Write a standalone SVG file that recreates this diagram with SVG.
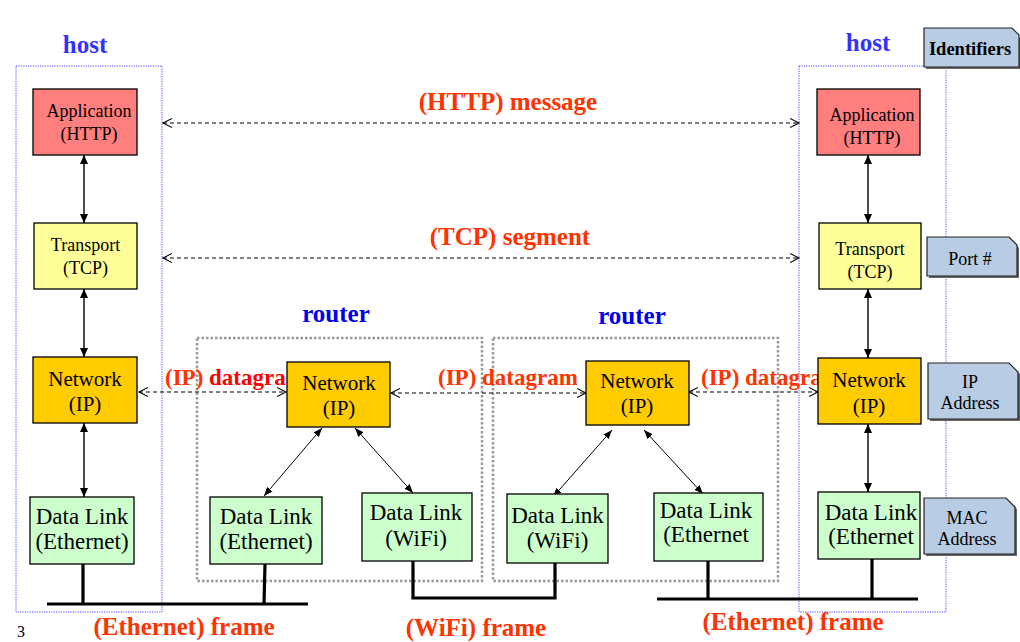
<svg xmlns="http://www.w3.org/2000/svg" width="1020" height="642" viewBox="0 0 1020 642">
<style>
.hostbox{fill:none;stroke:#4a4aff;stroke-width:1;stroke-dasharray:1.2 1.2}
.rbox{fill:none;stroke:#9a9a9a;stroke-width:2.5;stroke-dasharray:2.5 2}
.box{stroke:#000;stroke-width:1.3}
.app{fill:#ff7f7f}.tr{fill:#ffff99}.net{fill:#ffcc00}.dl{fill:#ccffcc}
.note{fill:#b8cce4;stroke:#222;stroke-width:1.2}
.shadow{fill:#666}
.t{font-family:"Liberation Serif","Times New Roman",serif;fill:#000;text-anchor:middle}
.s18{font-size:18px}.s21{font-size:21px}.s23{font-size:23px}
.lbl{font-family:"Liberation Serif","Times New Roman",serif;font-weight:bold;fill:#ff3300;text-anchor:middle;font-size:25px}
.ipl{font-family:"Liberation Serif","Times New Roman",serif;font-weight:bold;fill:#ff3300;font-size:23px}
.hostl{font-family:"Liberation Serif","Times New Roman",serif;font-weight:bold;fill:#3333ff;text-anchor:middle;font-size:25px}
.routl{font-family:"Liberation Serif","Times New Roman",serif;font-weight:bold;fill:#0000ee;text-anchor:middle;font-size:25px}
.dash{stroke:#000;stroke-width:1;stroke-dasharray:4 3;fill:none;marker-start:url(#open);marker-end:url(#open)}
.varrow{stroke:#000;stroke-width:1.4;fill:none;marker-start:url(#tri);marker-end:url(#tri)}
.darrow{stroke:#000;stroke-width:1;fill:none;marker-start:url(#tris);marker-end:url(#tris)}
.wire{stroke:#000;stroke-width:3.2;fill:none}
</style>
<defs>
<marker id="open" markerUnits="userSpaceOnUse" markerWidth="12" markerHeight="12" refX="9" refY="5" orient="auto-start-reverse" viewBox="0 0 12 10">
<path d="M0,0.5 L9,5 L0,9.5" fill="none" stroke="#000" stroke-width="1.1"/>
</marker>
<marker id="tri" markerUnits="userSpaceOnUse" markerWidth="10" markerHeight="10" refX="9" refY="4" orient="auto-start-reverse" viewBox="0 0 10 8">
<path d="M0,0 L9,4 L0,8 z" fill="#000"/>
</marker>
<marker id="tris" markerUnits="userSpaceOnUse" markerWidth="10" markerHeight="8" refX="9" refY="3.5" orient="auto-start-reverse" viewBox="0 0 10 7">
<path d="M0,0 L9,3.5 L0,7 z" fill="#000"/>
</marker>
</defs>
<rect width="1020" height="642" fill="#fff"/>

<g id="host-left">
<rect class="hostbox" x="16" y="66" width="146" height="546"/>
<text class="hostl" x="85" y="53">host</text>
</g>
<g id="host-right">
<rect class="hostbox" x="799" y="66" width="147" height="546"/>
<text class="hostl" x="868" y="51">host</text>
</g>
<g id="router-1">
<rect class="rbox" x="197" y="338" width="285" height="243"/>
<text class="routl" x="336" y="322">router</text>
</g>
<g id="router-2">
<rect class="rbox" x="493" y="338" width="285" height="243"/>
<text class="routl" x="632" y="324">router</text>
</g>

<g id="connectors">
<line class="dash" x1="163" y1="123" x2="799" y2="123"/>
<line class="dash" x1="163" y1="258" x2="799" y2="258"/>
<line class="dash" x1="139" y1="392" x2="286" y2="392"/>
<line class="dash" x1="391" y1="393" x2="586" y2="393"/>
<line class="dash" x1="689" y1="392" x2="818" y2="392"/>
<line class="varrow" x1="84" y1="155" x2="84" y2="223"/>
<line class="varrow" x1="84" y1="289" x2="84" y2="357"/>
<line class="varrow" x1="84" y1="423" x2="84" y2="497"/>
<line class="varrow" x1="868" y1="155" x2="868" y2="223"/>
<line class="varrow" x1="868" y1="289" x2="868" y2="358"/>
<line class="varrow" x1="868" y1="424" x2="868" y2="492"/>
<line class="darrow" x1="322" y1="428" x2="264" y2="496"/>
<line class="darrow" x1="355" y1="428" x2="413" y2="493"/>
<line class="darrow" x1="612" y1="430" x2="553" y2="497"/>
<line class="darrow" x1="644" y1="430" x2="703" y2="494"/>
<polyline class="wire" points="83,564 83,604"/>
<polyline class="wire" points="265,564 264,604"/>
<line class="wire" x1="47" y1="604" x2="308" y2="604"/>
<polyline class="wire" points="413,561 413,598 555,598 555,563"/>
<polyline class="wire" points="708,561 708,599"/>
<polyline class="wire" points="872,559 872,599"/>
<line class="wire" x1="657" y1="599" x2="918" y2="599"/>
</g>

<g id="labels">
<text class="lbl" x="508" y="110">(HTTP) message</text>
<text class="lbl" x="510" y="245">(TCP) segment</text>
<text class="ipl" x="165" y="385">(IP) <tspan fill="#ff0000">datagra</tspan></text>
<text class="ipl" x="438" y="385">(IP) datagram</text>
<text class="ipl" x="701" y="385">(IP) datagra</text>
<text class="lbl" x="184" y="635">(Ethernet) frame</text>
<text class="lbl" x="476" y="636">(WiFi) frame</text>
<text class="lbl" x="793" y="630">(Ethernet) frame</text>
<text x="17" y="637" font-family="Liberation Serif, Times New Roman, serif" font-size="16" fill="#000">3</text>
</g>

<g id="left-application">
<rect class="box app" x="33" y="89" width="104" height="66"/>
<text class="t s18" x="89" y="117">Application</text>
<text class="t s18" x="89" y="140">(HTTP)</text>
</g>
<g id="left-transport">
<rect class="box tr" x="34" y="223" width="103" height="66"/>
<text class="t s18" x="85.5" y="251">Transport</text>
<text class="t s18" x="85.5" y="274">(TCP)</text>
</g>
<g id="left-network">
<rect class="box net" x="33" y="357" width="104" height="66"/>
<text class="t s21" x="85" y="386">Network</text>
<text class="t s21" x="85" y="411">(IP)</text>
</g>
<g id="left-datalink">
<rect class="box dl" x="30" y="497" width="104" height="67"/>
<text class="t s23" x="82" y="524">Data Link</text>
<text class="t s23" x="82" y="549">(Ethernet)</text>
</g>

<g id="r1-network">
<rect class="box net" x="287" y="362" width="103" height="65"/>
<text class="t s21" x="339" y="390">Network</text>
<text class="t s21" x="339" y="415">(IP)</text>
</g>
<g id="r1-datalink-ethernet">
<rect class="box dl" x="210" y="497" width="112" height="67"/>
<text class="t s23" x="266" y="524">Data Link</text>
<text class="t s23" x="266" y="549">(Ethernet)</text>
</g>
<g id="r1-datalink-wifi">
<rect class="box dl" x="362" y="493" width="110" height="68"/>
<text class="t s23" x="416" y="520">Data Link</text>
<text class="t s23" x="416" y="546">(WiFi)</text>
</g>

<g id="r2-network">
<rect class="box net" x="586" y="361" width="103" height="64"/>
<text class="t s21" x="637" y="388">Network</text>
<text class="t s21" x="637" y="413">(IP)</text>
</g>
<g id="r2-datalink-wifi">
<rect class="box dl" x="507" y="494" width="101" height="69"/>
<text class="t s23" x="557.5" y="523">Data Link</text>
<text class="t s23" x="557.5" y="548">(WiFi)</text>
</g>
<g id="r2-datalink-ethernet">
<rect class="box dl" x="654" y="493" width="109" height="68"/>
<text class="t s23" x="706" y="518">Data Link</text>
<text class="t s23" x="706" y="542">(Ethernet</text>
</g>

<g id="right-application">
<rect class="box app" x="817" y="89" width="103" height="66"/>
<text class="t s18" x="872" y="121">Application</text>
<text class="t s18" x="872" y="144">(HTTP)</text>
</g>
<g id="right-transport">
<rect class="box tr" x="819" y="223" width="102" height="66"/>
<text class="t s18" x="870" y="255">Transport</text>
<text class="t s18" x="870" y="278">(TCP)</text>
</g>
<g id="right-network">
<rect class="box net" x="818" y="358" width="103" height="66"/>
<text class="t s21" x="869" y="387">Network</text>
<text class="t s21" x="869" y="413">(IP)</text>
</g>
<g id="right-datalink">
<rect class="box dl" x="818" y="492" width="102" height="67"/>
<text class="t s23" x="871" y="520">Data Link</text>
<text class="t s23" x="871" y="544">(Ethernet</text>
</g>

<g id="note-identifiers">
<path class="shadow" d="M926,30 H1012 L1021,39 V69 H926 Z"/>
<path class="note" d="M924,28 H1012 L1019,35 V67 H924 Z"/>
<text class="t" x="970" y="55" font-size="18.5" font-weight="bold">Identifiers</text>
</g>
<g id="note-port">
<path class="shadow" d="M929,239 H1010 L1019,248 V278 H929 Z"/>
<path class="note" d="M927,237 H1009 L1017,245 V276 H927 Z"/>
<text class="t s18" x="970" y="265">Port #</text>
</g>
<g id="note-ip">
<path class="shadow" d="M930,365 H1011 L1020,374 V421 H930 Z"/>
<path class="note" d="M928,363 H1009 L1018,372 V419 H928 Z"/>
<text class="t s18" x="970" y="388">IP</text>
<text class="t s18" x="970" y="409">Address</text>
</g>
<g id="note-mac">
<path class="shadow" d="M926,500 H1008 L1017,509 V556 H926 Z"/>
<path class="note" d="M924,498 H1006 L1015,507 V554 H924 Z"/>
<text class="t s18" x="967" y="524">MAC</text>
<text class="t s18" x="967" y="545">Address</text>
</g>
</svg>
